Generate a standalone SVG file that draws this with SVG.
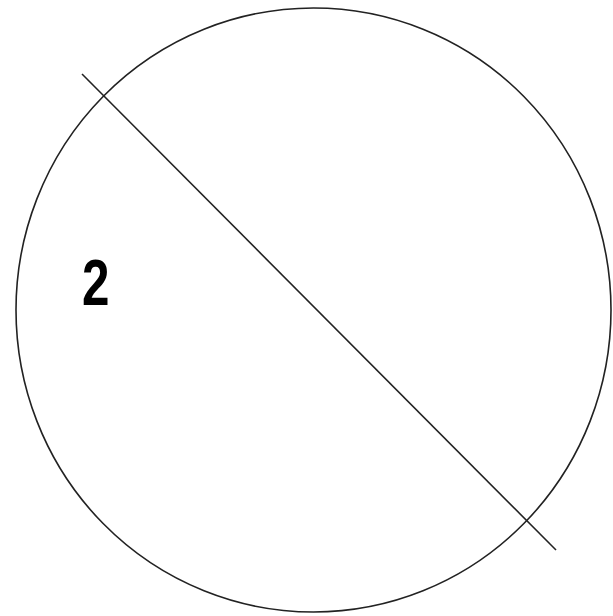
<svg xmlns="http://www.w3.org/2000/svg" width="613" height="616" viewBox="0 0 613 616">
<style>
.s{fill:none;stroke:#222;stroke-width:1.6}
.lbl{font-family:"Liberation Sans",Arial,sans-serif;font-weight:bold;font-size:65px;fill:#000}
</style>
<rect width="613" height="616" fill="#fff"/>
<g id="circle"><ellipse class="s" cx="313.5" cy="310" rx="297.5" ry="302"/></g>
<g id="connectors"><line class="s" x1="82" y1="74" x2="556" y2="550"/></g>
<g id="label"><text class="lbl" transform="translate(82,305) scale(0.76,1)">2</text></g>
</svg>
